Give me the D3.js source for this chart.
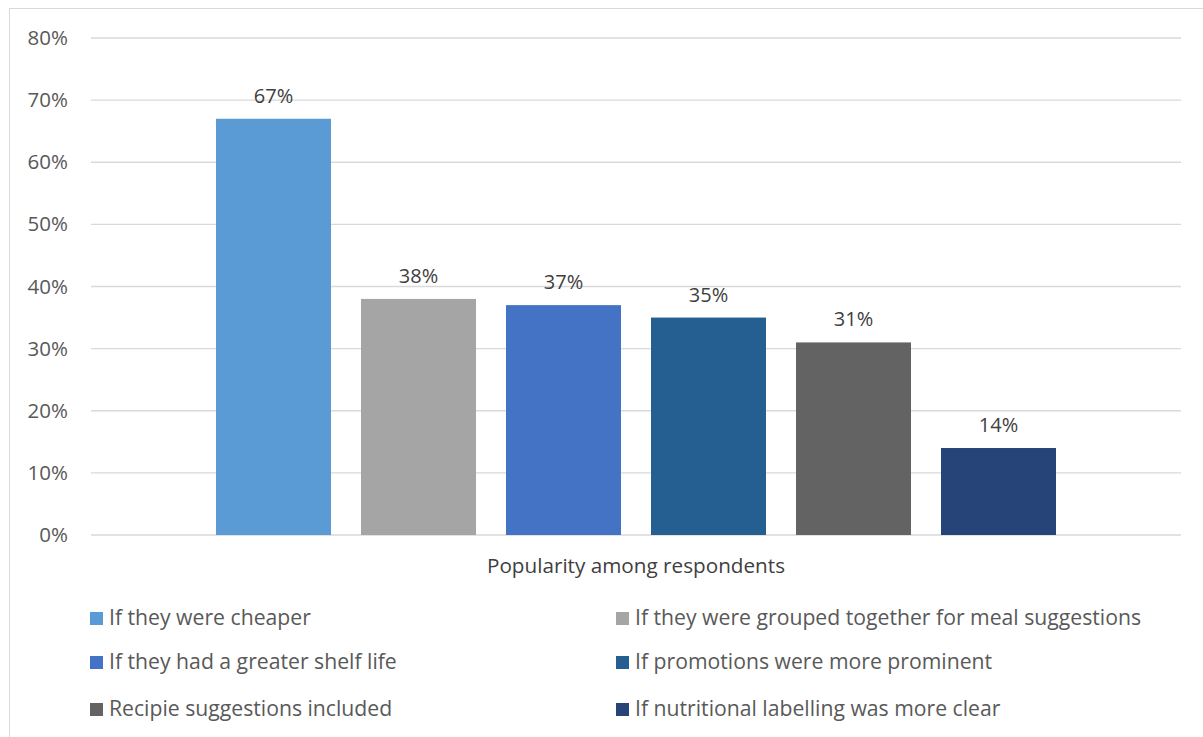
<!DOCTYPE html>
<html><head><meta charset="utf-8">
<script src="https://cdn.jsdelivr.net/npm/d3@7"></script>
<style>body{margin:0;background:#fff}svg{display:block}text{font-family:"Open Sans",sans-serif}</style>
</head><body><svg id="c" width="1203" height="737"></svg>
<script>
const categories = ["If they were cheaper","If they were grouped together for meal suggestions","If they had a greater shelf life","If promotions were more prominent","Recipie suggestions included","If nutritional labelling was more clear"];
const values = [0.67,0.38,0.37,0.35,0.31,0.14];
const colors = ["#5B9BD5","#A5A5A5","#4472C4","#255E91","#636363","#264478"];
const yTicks = [0,0.1,0.2,0.3,0.4,0.5,0.6,0.7,0.8];
const axisTitle = "Popularity among respondents";

const svg = d3.select("#c");
svg.append("rect").attr("x",9.5).attr("y",8.5).attr("width",1203).attr("height",740).attr("fill","none").attr("stroke","#D9D9D9");

const x0 = 91, x1 = 1181;
const y = d3.scaleLinear().domain([0,0.8]).range([535,38]);
const x = d3.scaleBand().domain(categories).range([216,1056]).paddingInner(30/145).paddingOuter(0);

const g = svg.append("g");
g.selectAll("line.grid").data(yTicks).join("line").attr("class","grid")
 .attr("x1",x0).attr("x2",x1).attr("y1",d=>y(d)).attr("y2",d=>y(d))
 .attr("stroke","#D9D9D9").attr("stroke-width",1.3);

const yAxis = d3.axisLeft(y).tickValues(yTicks).tickFormat(d3.format(".0%")).tickSize(0).tickPadding(0);
const ya = svg.append("g").attr("transform","translate(68,0)").call(yAxis);
ya.select(".domain").remove();
ya.selectAll("text").attr("font-size",20.5).attr("fill","#595959").attr("font-family","'Open Sans',sans-serif");

g.selectAll("rect.bar").data(values).join("rect").attr("class","bar")
 .attr("x",(d,i)=>x(categories[i])).attr("width",x.bandwidth())
 .attr("y",d=>y(d)).attr("height",d=>y(0)-y(d)).attr("fill",(d,i)=>colors[i]);

g.selectAll("text.lbl").data(values).join("text").attr("class","lbl")
 .attr("x",(d,i)=>x(categories[i])+x.bandwidth()/2).attr("y",d=>y(d)-16)
 .attr("text-anchor","middle").attr("font-size",20).attr("fill","#404040")
 .text(d3.format(".0%"));

svg.append("text").attr("x",(x0+x1)/2).attr("y",573).attr("text-anchor","middle")
 .attr("font-size",20.7).attr("fill","#404040").text(axisTitle);

const lg = svg.append("g");
categories.forEach((c,i)=>{
  const col = i%2, row = Math.floor(i/2);
  const lx = col===0 ? 90 : 616;
  const ly = [618,662,709][row];
  lg.append("rect").attr("x",lx).attr("y",ly-6).attr("width",13).attr("height",13).attr("fill",colors[i]);
  lg.append("text").attr("x",lx+19).attr("y",ly+7).attr("font-size",21.2).attr("fill","#595959").text(c);
});
</script></body></html>
